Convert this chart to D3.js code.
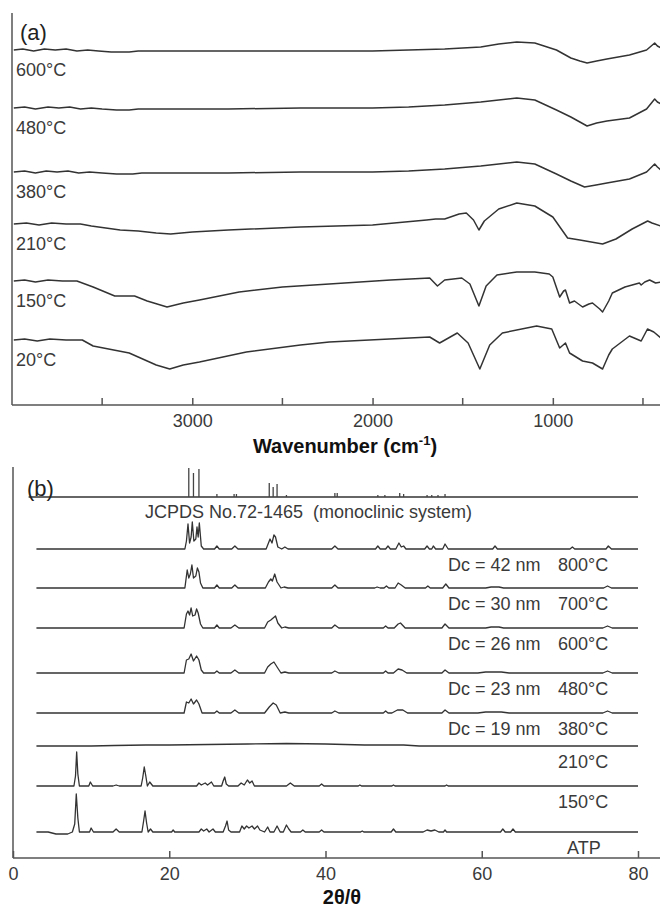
<!DOCTYPE html>
<html>
<head>
<meta charset="utf-8">
<script src="https://cdn.jsdelivr.net/npm/d3@7"></script>
<style>
  body { margin: 0; background: #fff; }
  text { font-family: "Liberation Sans", Arial, sans-serif; }
</style>
</head>
<body>
<div id="container"></div>
<script>
// ---- panel (a) FTIR data : [wavenumber, relative transmittance (a.u.)] ----
const ftirLabels = ['600°C', '480°C', '380°C', '210°C', '150°C', '20°C'];
const ftirOffsets = [355, 297, 233, 181, 124, 65];

const ftir600 = [[3990,0],[3940,1],[3880,-1],[3820,1],[3760,0],[3700,1],[3640,-1],[3580,0],[3520,-1],[3450,-2],[3350,-2],[3300,-1],
  [2800,-1],[2600,-1],[2000,-1],[1800,0],[1600,1],[1400,3],[1300,6],[1200,8],[1100,7],[980,0],[950,-3],[900,-8],
  [850,-11],[810,-13],[757,-11],[700,-9],[575,-5],[480,0],[435,7],[420,4],[400,2]];
const ftir480 = [[3990,0],[3930,1],[3870,-1],[3800,1],[3740,0],[3680,1],[3620,-1],[3560,0],[3500,-1],[3420,-2],[3350,-2],[3300,-1],
  [2800,-1],[2400,0],[2000,0],[1800,1],[1600,3],[1400,6],[1300,8],[1200,10],[1100,8],[980,-2],[900,-9],
  [850,-14],[810,-18],[757,-15],[700,-13],[575,-10],[480,-1],[435,9],[420,6],[400,4]];
const ftir380 = [[3990,0],[3930,1],[3870,-1],[3810,1],[3750,0],[3690,1],[3630,-1],[3570,0],[3500,-1],[3420,-2],[3330,-2],[3280,-1],
  [2800,-1],[2400,0],[2000,0],[1800,1],[1600,3],[1400,6],[1300,8],[1200,10],[1100,8],[980,-2],[900,-9],
  [824,-15],[760,-13],[700,-11],[575,-7],[480,0],[435,8],[420,5],[400,2]];
const ftir210 = [[3990,0],[3920,1],[3850,-1],[3780,1],[3700,0],[3620,0],[3560,-2],[3400,-6],[3300,-7],[3200,-9],[3120,-10],
  [3000,-8],[2800,-6],[2400,-3],[2000,-1],[1700,4],[1650,5],[1600,5],[1520,10],[1480,11],[1440,4],[1410,-6],
  [1380,3],[1300,15],[1200,21],[1100,18],[1000,7],[918,-14],[850,-16],[724,-20],[650,-15],[560,-5],[474,3],[450,1],[400,-2]];
const ftir150 = [[3990,0],[3930,1],[3870,-1],[3800,1],[3720,0],[3640,0],[3550,-6],[3430,-15],[3320,-15],[3250,-20],[3140,-26],
  [3050,-22],[2960,-19],[2740,-11],[2500,-6],[2240,-3],[1900,1],[1683,3],[1640,-5],[1600,1],[1505,3],[1460,-3],
  [1410,-25],[1370,-5],[1310,6],[1200,9],[1100,9],[1020,7],[1000,4],[962,-16],[940,-10],[930,-9],[907,-22],
  [880,-20],[835,-26],[800,-23],[780,-22],[740,-28],[724,-31],[690,-20],[670,-12],[600,-6],[520,-2],[510,-4],
  [490,-1],[463,1],[430,-2],[400,-1]];
const ftir20 = [[3990,0],[3930,1],[3860,-1],[3790,1],[3700,0],[3610,0],[3550,-6],[3350,-13],[3300,-17],[3200,-25],[3125,-29],
  [3050,-25],[2960,-22],[2700,-12],[2400,-5],[2240,-2],[1683,3],[1628,-3],[1530,7],[1470,-3],[1405,-29],
  [1350,-5],[1280,7],[1090,14],[1006,11],[962,-8],[930,-3],[907,-13],[835,-21],[780,-23],[724,-29],[690,-15],
  [670,-9],[575,4],[510,-1],[475,11],[440,8],[400,2]];
const ftirSeries = [ftir600, ftir480, ftir380, ftir210, ftir150, ftir20];
const ftirMajorTicks = [3000, 2000, 1000];
const ftirMinorTicks = [3500, 2500, 1500, 500];

// ---- panel (b) XRD data : [2theta, intensity (a.u.)] ----
const jcpdsSticks = [[22.5,29],[23.1,24],[23.8,28],[26.1,3],[28.3,3],[28.6,3],[32.8,14],[33.3,10],[33.8,13],[35.0,2],
  [41.2,4],[41.5,4],[46.7,2],[47.6,2],[49.5,4],[50.0,3],[53.0,2],[53.6,2],[54.4,2],[55.3,3]];
const xrdTemps = ['800°C', '700°C', '600°C', '480°C', '380°C', '210°C', '150°C', 'ATP'];
const xrdDc = ['Dc = 42 nm', 'Dc = 30 nm', 'Dc = 26 nm', 'Dc = 23 nm', 'Dc = 19 nm', '', '', ''];
const xrdOffsets = [309, 270, 230, 185, 145, 112, 72, 26];
const jcpdsOffset = 361;

const xrd800 = [[3,0],[22.0,0],[22.2,8],[22.4,25],[22.6,6],[22.8,12],[22.95,27],[23.15,8],[23.4,10],[23.55,22],[23.7,12],[23.85,26],
  [24.1,3],[24.4,0],[25.8,0],[26.1,3],[26.4,0],[28.0,0],[28.4,3],[28.8,0],[32.4,0],[32.7,6],[32.9,10],[33.15,6],
  [33.4,14],[33.6,12],[33.9,2],[34.4,0],[34.8,2],[35.2,0],[40.8,0],[41.2,3],[41.6,0],[46.4,0],[46.7,3],[47.0,0],
  [47.7,0],[48.0,3],[48.3,0],[49.0,0],[49.4,6],[49.7,2],[50.0,3],[50.3,0],[52.7,0],[53.0,3],[53.3,0],[53.6,0],
  [53.8,3],[54.1,0],[55.0,0],[55.3,5],[55.7,0],[61.4,0],[61.7,3],[62.0,0],[71.3,0],[71.6,2],[71.9,0],[75.9,0],
  [76.2,3],[76.6,0],[80,0]];
const xrd700 = [[3,0],[22.0,0],[22.3,18],[22.5,10],[22.7,14],[22.9,23],[23.1,10],[23.4,12],[23.6,20],[23.8,16],[24.0,5],
  [24.3,0],[25.8,0],[26.1,3],[26.4,0],[28.0,0],[28.4,3],[28.8,0],[32.3,0],[32.7,6],[33.0,9],[33.2,7],[33.5,14],
  [33.8,6],[34.3,0],[34.7,1],[35.2,0],[40.8,0],[41.2,3],[41.6,0],[46.3,0],[46.6,1],[47.0,0],[47.5,0],[47.8,2],
  [48.1,0],[48.9,0],[49.3,5],[49.7,3],[50.2,0],[52.8,0],[53.1,2],[53.4,0],[55.0,0],[55.4,4],[55.8,0],[60.5,0],
  [61.2,1],[62.2,1],[62.8,0],[75.6,0],[76.1,2],[76.6,0],[80,0]];
const xrd600 = [[3,0],[21.9,0],[22.2,14],[22.4,17],[22.6,13],[22.8,20],[23.0,12],[23.3,13],[23.5,19],[23.7,15],[24.0,4],
  [24.3,0],[25.8,0],[26.1,3],[26.4,0],[27.9,0],[28.4,3],[28.9,0],[32.2,0],[32.6,6],[33.0,8],[33.3,10],[33.6,12],
  [33.9,5],[34.4,0],[34.8,1],[35.3,0],[40.8,0],[41.2,3],[41.7,0],[47.4,0],[47.7,2],[48.0,0],[48.8,0],[49.3,4],
  [49.6,5],[50.2,0],[54.9,0],[55.3,4],[55.8,0],[60.5,0],[61.2,1],[62.2,1],[62.8,0],[75.5,0],[76.1,2],[76.7,0],[80,0]];
const xrd480 = [[3,0],[21.9,0],[22.2,13],[22.5,14],[22.8,19],[23.1,12],[23.5,17],[23.8,13],[24.1,3],[24.4,0],[25.8,0],
  [26.1,2],[26.4,0],[27.9,0],[28.4,3],[28.9,0],[32.2,0],[32.6,6],[33.0,9],[33.4,11],[33.8,6],[34.3,0],[34.8,1],
  [35.3,0],[40.8,0],[41.2,2],[41.7,0],[47.4,0],[47.7,2],[48.0,0],[48.7,0],[49.3,4],[49.8,3],[50.4,0],[54.9,0],
  [55.3,3],[55.8,0],[59.5,0],[60.5,1],[62.5,1],[63.5,0],[75.5,0],[76.1,2],[76.7,0],[80,0]];
const xrd380 = [[3,0],[21.9,0],[22.2,11],[22.5,10],[22.8,14],[23.1,9],[23.5,13],[23.8,9],[24.2,0],[25.8,0],[26.1,2],
  [26.4,0],[27.9,0],[28.4,3],[28.9,0],[32.2,0],[32.8,6],[33.3,10],[33.7,8],[34.2,0],[34.8,1],[35.3,0],[40.8,0],
  [41.2,2],[41.7,0],[47.4,0],[47.7,2],[48.0,0],[48.5,0],[49.2,3],[49.9,3],[50.5,0],[54.9,0],[55.3,3],[55.8,0],
  [59.5,0],[60.5,1],[62.5,1],[63.5,0],[75.5,0],[76.1,2],[76.7,0],[80,0]];
const xrd210 = [[3,0],[10,0],[13,0.5],[17,1],[20,1],[25,1.5],[30,2],[35,2.5],[40,2],[45,1],[50,1],[52,0],[80,0]];
const xrd150 = [[3,0],[7.8,0],[8.0,10],[8.15,34],[8.3,12],[8.5,0],[9.7,0],[9.9,4],[10.2,0],[12.8,0],[13.2,1],[13.6,0],
  [16.4,0],[16.6,8],[16.8,19],[17.0,10],[17.2,0],[17.5,4],[17.9,0],[23.5,0],[23.8,3],[24.1,1],[24.6,3],[24.9,1],
  [25.4,4],[25.7,0],[26.7,0],[26.9,5],[27.1,9],[27.3,2],[27.6,0],[28.8,0],[29.2,3],[29.6,1],[30.0,6],[30.3,3],
  [30.6,5],[30.9,0],[35.0,0],[35.5,3],[36.0,0],[39.2,0],[39.5,2],[39.8,0],[44.2,0],[44.4,1],[44.6,0],[48.5,0],
  [48.7,1],[48.9,0],[55.3,0],[55.5,1],[55.7,0],[80,0]];
const xrdATP = [[3,0],[4.5,0],[5.5,-2],[7.0,-2],[7.6,0],[7.9,8],[8.1,38],[8.3,14],[8.5,0],[9.8,0],[10.0,4],[10.3,0],
  [12.8,0],[13.2,3],[13.6,0],[16.5,0],[16.7,10],[16.9,21],[17.1,9],[17.3,0],[17.6,3],[17.9,0],[20.3,0],[20.5,2],
  [20.7,0],[23.8,0],[24.1,3],[24.4,1],[24.8,3],[25.1,0],[25.6,3],[25.9,0],[26.9,0],[27.2,6],[27.4,11],[27.6,2],
  [27.9,0],[29.0,0],[29.3,6],[29.6,3],[29.9,6],[30.2,4],[30.6,6],[30.9,3],[31.3,6],[31.6,2],[32.2,0],[32.6,5],
  [32.9,0],[33.4,0],[33.8,6],[34.2,0],[34.6,0],[35.0,7],[35.3,3],[35.6,0],[36.8,0],[37.1,2],[37.4,0],[39.2,0],
  [39.5,2],[39.8,0],[44.5,0],[44.7,1],[44.9,0],[48.4,0],[48.7,3],[49.0,0],[52.5,0],[53.0,2],[53.5,1],[54.0,2],
  [54.5,0],[55.1,0],[55.3,2],[55.5,0],[62.4,0],[62.7,3],[63.0,0],[63.7,0],[64.0,3],[64.3,0],[80,0]];
const xrdSeries = [xrd800, xrd700, xrd600, xrd480, xrd380, xrd210, xrd150, xrdATP];
const xrdTicks = [0, 20, 40, 60, 80];

// svg dimensions
const width = 660;
const height = 907;

const svg = d3.select('#container')
              .append('svg')
              .attr('width', width)
              .attr('height', height);

const axisColor = '#555';
const lineColor = '#333';
const textColor = '#3a3a3a';

// ================= panel (a) =================
const aLeft = 12, aTop = 13, aBottom = 405;

const xA = d3.scaleLinear()
             .domain([4000, 400])
             .range([aLeft, 661]);

const yA = d3.scaleLinear()
             .domain([0, aBottom - aTop])
             .range([aBottom, aTop]);

const lineA = d3.line()
                .x(d => xA(d[0]))
                .y(d => yA(d[1] + d[2]));

svg.append('g')
   .selectAll('path')
   .data(ftirSeries)
   .enter()
   .append('path')
   .attr('d', (s, i) => lineA(s.map(p => [p[0], p[1], ftirOffsets[i]])))
   .attr('fill', 'none')
   .attr('stroke', lineColor)
   .attr('stroke-width', 1.5)
   .attr('stroke-linejoin', 'round');

svg.append('g')
   .selectAll('text')
   .data(ftirLabels)
   .enter()
   .append('text')
   .attr('x', 16)
   .attr('y', (d, i) => yA(ftirOffsets[i]) + 26)
   .attr('font-size', 18)
   .attr('fill', textColor)
   .text(d => d);

// axes (a)
const axA = d3.axisBottom(xA)
              .tickValues(ftirMajorTicks)
              .tickSize(-7)
              .tickPadding(9)
              .tickFormat(d3.format('d'));
const gA = svg.append('g')
              .attr('transform', `translate(0,${aBottom})`)
              .call(axA);
gA.select('.domain').attr('d', `M${aLeft},0H${width}`);
gA.selectAll('.minor')
  .data(ftirMinorTicks)
  .enter()
  .append('line')
  .attr('class', 'minor')
  .attr('x1', d => xA(d)).attr('x2', d => xA(d))
  .attr('y1', 0).attr('y2', -7);
gA.selectAll('line, .domain').attr('stroke', axisColor).attr('stroke-width', 1.5);
gA.selectAll('text').attr('font-size', 18).attr('fill', textColor)
  .attr('font-family', '"Liberation Sans", Arial, sans-serif');

svg.append('line')
   .attr('x1', aLeft).attr('x2', aLeft)
   .attr('y1', aTop).attr('y2', aBottom)
   .attr('stroke', axisColor).attr('stroke-width', 1.5);

svg.append('text')
   .attr('x', 20).attr('y', 40)
   .attr('font-size', 22)
   .attr('fill', '#222')
   .text('(a)');

const titleA = svg.append('text')
                  .attr('x', 345).attr('y', 453)
                  .attr('text-anchor', 'middle')
                  .attr('font-size', 20)
                  .attr('font-weight', 'bold')
                  .attr('fill', '#111');
titleA.append('tspan').text('Wavenumber (cm');
titleA.append('tspan').attr('font-size', 13).attr('dy', -8).text('-1');
titleA.append('tspan').attr('dy', 8).text(')');

// ================= panel (b) =================
const bLeft = 13, bTop = 467, bBottom = 858;

const xB = d3.scaleLinear()
             .domain([0, 80])
             .range([bLeft, 638]);

const yB = d3.scaleLinear()
             .domain([0, bBottom - bTop])
             .range([bBottom, bTop]);

const lineB = d3.line()
                .x(d => xB(d[0]))
                .y(d => yB(d[1] + d[2]));

// JCPDS reference baseline + sticks
svg.append('line')
   .attr('x1', xB(2)).attr('x2', xB(80))
   .attr('y1', yB(jcpdsOffset)).attr('y2', yB(jcpdsOffset))
   .attr('stroke', lineColor).attr('stroke-width', 1.4);

svg.append('g')
   .selectAll('line')
   .data(jcpdsSticks)
   .enter()
   .append('line')
   .attr('x1', d => xB(d[0])).attr('x2', d => xB(d[0]))
   .attr('y1', yB(jcpdsOffset))
   .attr('y2', d => yB(jcpdsOffset + d[1]))
   .attr('stroke', '#444')
   .attr('stroke-width', 1.3);

svg.append('text')
   .attr('x', 145).attr('y', yB(jcpdsOffset) + 21)
   .attr('font-size', 18)
   .attr('fill', textColor)
   .text('JCPDS No.72-1465 \u00a0(monoclinic system)');

svg.append('g')
   .selectAll('path')
   .data(xrdSeries)
   .enter()
   .append('path')
   .attr('d', (s, i) => lineB(s.map(p => [p[0], p[1], xrdOffsets[i]])))
   .attr('fill', 'none')
   .attr('stroke', lineColor)
   .attr('stroke-width', 1.3)
   .attr('stroke-linejoin', 'round');

const labB = svg.append('g');
labB.selectAll('text.dc')
    .data(xrdDc)
    .enter()
    .append('text')
    .attr('class', 'dc')
    .attr('x', 448)
    .attr('y', (d, i) => yB(xrdOffsets[i]) + 22)
    .attr('font-size', 18)
    .attr('fill', textColor)
    .text(d => d);
labB.selectAll('text.temp')
    .data(xrdTemps)
    .enter()
    .append('text')
    .attr('class', 'temp')
    .attr('x', (d, i) => i === xrdTemps.length - 1 ? 567 : 558)
    .attr('y', (d, i) => yB(xrdOffsets[i]) + 22)
    .attr('font-size', 18)
    .attr('fill', textColor)
    .text(d => d);

// axes (b)
const axB = d3.axisBottom(xB)
              .tickValues(xrdTicks)
              .tickSize(-7)
              .tickPadding(9);
const gB = svg.append('g')
              .attr('transform', `translate(0,${bBottom})`)
              .call(axB);
gB.select('.domain').attr('d', `M${bLeft},0H${width}`);
gB.selectAll('line, .domain').attr('stroke', axisColor).attr('stroke-width', 1.5);
gB.selectAll('text').attr('font-size', 18).attr('fill', textColor)
  .attr('font-family', '"Liberation Sans", Arial, sans-serif');

svg.append('line')
   .attr('x1', bLeft).attr('x2', bLeft)
   .attr('y1', bTop).attr('y2', bBottom)
   .attr('stroke', axisColor).attr('stroke-width', 1.5);

svg.append('text')
   .attr('x', 27).attr('y', 496)
   .attr('font-size', 22)
   .attr('fill', '#222')
   .text('(b)');

svg.append('text')
   .attr('x', 342).attr('y', 904)
   .attr('text-anchor', 'middle')
   .attr('font-size', 20)
   .attr('font-weight', 'bold')
   .attr('fill', '#111')
   .text('2θ/θ');
</script>
</body>
</html>
